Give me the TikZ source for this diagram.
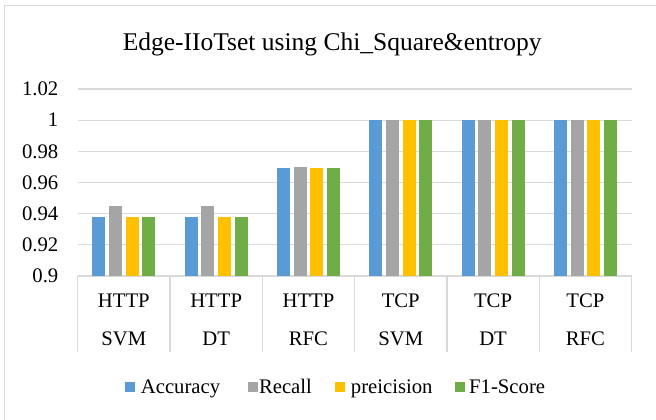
\documentclass[tikz,border=0pt]{standalone}
\usepackage{fontspec}
\setmainfont{Liberation Serif}
\definecolor{cacc}{HTML}{5B9BD5}
\definecolor{crec}{HTML}{A5A5A5}
\definecolor{cpre}{HTML}{FFC000}
\definecolor{cf1}{HTML}{70AD47}
\definecolor{cgrid}{HTML}{D9D9D9}
\tikzset{
  gridline/.style={draw=cgrid, line width=1.2pt},
  framebox/.style={draw=cgrid, line width=1.5pt},
  ticklabel/.style={anchor=east, inner sep=0pt, font=\fontsize{20.7}{24}\selectfont},
  catlabel/.style={anchor=base, inner sep=0pt, font=\fontsize{20.7}{24}\selectfont},
  legtext/.style={anchor=base west, inner sep=0pt, font=\fontsize{20.7}{24}\selectfont},
  titletext/.style={anchor=base, inner sep=0pt, font=\fontsize{25.5}{30}\selectfont},
}
\begin{document}
\begin{tikzpicture}[x=1pt,y=-1pt]
\useasboundingbox (0,0) rectangle (656,420);
\clip (0,0) rectangle (656,420);
\fill[white] (0,0) rectangle (656,420);
\draw[framebox] (4.5,5.5) rectangle (680,440);
% title
\node[titletext] (title) at (332.2,50.7) {Edge-IIoTset using Chi\_Square\&entropy};
% gridlines and tick labels
\foreach \v/\lab [count=\i] in {1.02/1.02,1.00/1,0.98/0.98,0.96/0.96,0.94/0.94,0.92/0.92,0.90/0.9} {
  \pgfmathsetmacro{\yy}{276-(\v-0.9)*1558.33}
  \draw[gridline] (77.7,\yy) -- (631.5,\yy);
  \node[ticklabel] (tick\i) at (58.5,\yy) {\lab};
}
% category separators
\foreach \k in {0,...,6} {
  \draw[gridline] ({77.7+92.3*\k},276) -- ({77.7+92.3*\k},352);
}
% bars
\foreach \k/\a/\b/\c/\d in {0/0.938/0.945/0.938/0.938,1/0.938/0.945/0.938/0.938,2/0.969/0.970/0.969/0.969,3/1/1/1/1,4/1/1/1/1,5/1/1/1/1} {
  \foreach \j/\val/\col in {0/\a/cacc,1/\b/crec,2/\c/cpre,3/\d/cf1} {
    \pgfmathsetmacro{\xx}{77.7+92.3*\k+14.6+16.7*\j}
    \pgfmathsetmacro{\yy}{276-(\val-0.9)*1558.33}
    \fill[\col] (\xx,\yy) rectangle ({\xx+13},276);
  }
}
% category labels
\foreach \k/\top/\bot in {0/HTTP/SVM,1/HTTP/DT,2/HTTP/RFC,3/TCP/SVM,4/TCP/DT,5/TCP/RFC} {
  \node[catlabel] (cattop\k) at ({77.7+92.3*\k+46.15},307.3) {\top};
  \node[catlabel] (catbot\k) at ({77.7+92.3*\k+46.15},345.7) {\bot};
}
% legend
\fill[cacc] (125,381.7) rectangle (135,391.7);
\node[legtext] (legacc) at (140.7,393.3) {Accuracy};
\fill[crec] (247.5,381.7) rectangle (257.5,391.7);
\node[legtext] (legrec) at (258.8,393.3) {Recall};
\fill[cpre] (335,381.7) rectangle (345,391.7);
\node[legtext] (legpre) at (350.7,393.3) {preicision};
\fill[cf1] (455,381.7) rectangle (465,391.7);
\node[legtext] (legf1) at (469,393.3) {F1-Score};
\end{tikzpicture}
\end{document}
